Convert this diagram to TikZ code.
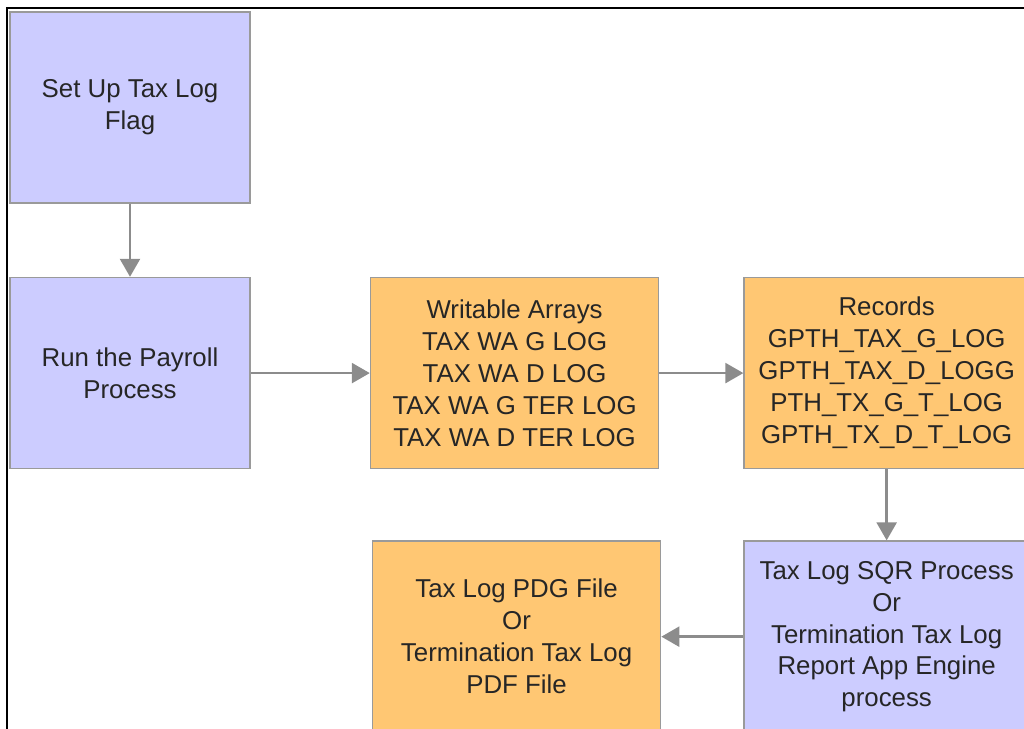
\documentclass[tikz,border=0pt]{standalone}
\usepackage{fontspec}
\setmainfont{Liberation Sans}
\usepackage{xcolor}
\usepackage{tikz}
\usetikzlibrary{arrows.meta, positioning}

\definecolor{procblue}{HTML}{CCCCFF}
\definecolor{dataorange}{HTML}{FFC773}
\definecolor{edgegray}{HTML}{9A9A9A}
\definecolor{flowgray}{HTML}{8C8C8C}

\begin{document}
\begin{tikzpicture}[
    node distance=1.46cm and 2.4cm,
    proc/.style={rectangle, draw=edgegray, line width=0.9pt, fill=procblue, minimum width=4.8cm, minimum height=3.82cm, align=center, inner sep=0pt, text=black!85, font=\fontsize{14.7}{18.2}\selectfont},
    data/.style={proc, fill=dataorange, minimum width=5.76cm},
    flow/.style={-{Triangle[length=0.36cm, width=0.4cm]}, line width=1.4pt, draw=flowgray!80, color=flowgray}
]

% Page and frame
\useasboundingbox (0,-14.58) rectangle (20.48,0);
\clip (0,-14.58) rectangle (20.48,0);
\coordinate (framebl) at (0.14,-14.58);
\coordinate (frametl) at (0.14,-0.16);
\coordinate (frametr) at (20.48,-0.16);
\draw[line width=1pt] (framebl) -- (frametl) -- (frametr);

% Left column
\node[proc] (setup) at (2.6,-2.15) {Set Up Tax Log\\Flag};
\node[proc, below=of setup] (payroll) {Run the Payroll\\Process};

% Top row
\node[data, right=2.38cm of payroll] (arrays) {Writable Arrays\\TAX WA G LOG\\TAX WA D LOG\\TAX WA G TER LOG\\TAX WA D TER LOG};
\node[data, right=1.68cm of arrays, minimum width=5.7cm] (records) {Records\\GPTH\_TAX\_G\_LOG\\GPTH\_TAX\_D\_LOGG\\PTH\_TX\_G\_T\_LOG\\GPTH\_TX\_D\_T\_LOG};

% Bottom row
\node[proc, below=1.42cm of records, minimum width=5.7cm] (report) {Tax Log SQR Process\\Or\\Termination Tax Log\\Report App Engine\\process};
\node[data, left=1.64cm of report] (pdffile) {Tax Log PDG File\\Or\\Termination Tax Log\\PDF File};

% Flow
\draw[flow] (setup) -- (payroll);
\draw[flow] (payroll) -- (arrays);
\draw[flow] (arrays) -- (records);
\draw[flow] (records) -- (report);
\draw[flow] (report) -- (pdffile);

\end{tikzpicture}
\end{document}
